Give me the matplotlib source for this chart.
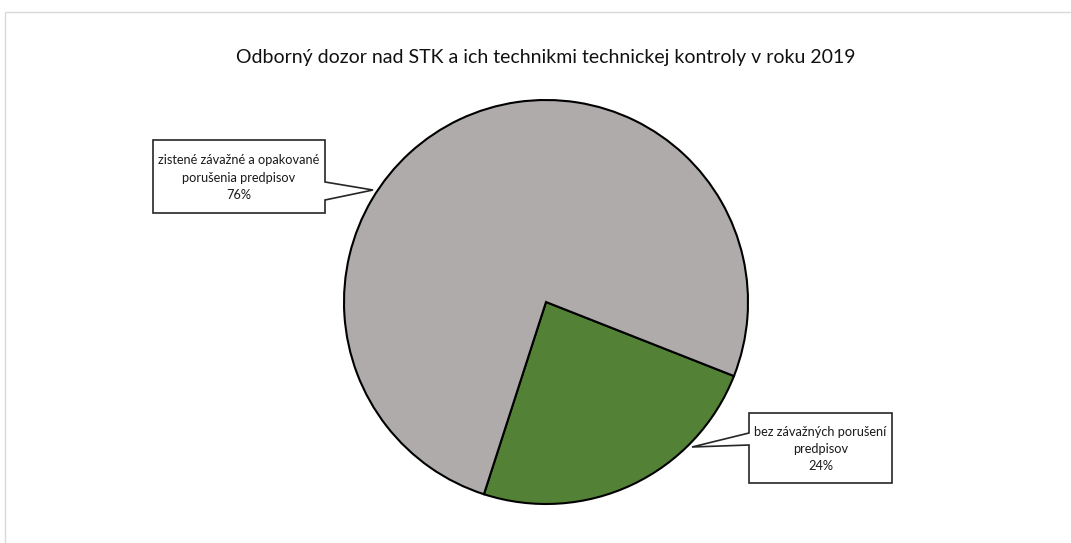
import matplotlib.pyplot as plt
from matplotlib.patches import Polygon, Rectangle

# data
categories = ["bez závažných porušení\npredpisov", "zistené závažné a opakované\nporušenia predpisov"]
values = [24, 76]
colors = ["#538135", "#AFABAB"]
title = "Odborný dozor nad STK a ich technikmi technickej kontroly v roku 2019"

W, H = 1071, 543
plt.rcParams['font.family'] = ['Lato', 'DejaVu Sans']

fig = plt.figure(figsize=(W / 100, H / 100), dpi=100)
ax = fig.add_axes([0, 0, 1, 1])

def py(y):
    # pixel row -> data y
    return H - y

# chart border
fig.patches.append(Rectangle((5 / W, -0.1), 1.2, (H - 12) / H + 0.1, transform=fig.transFigure,
                             fill=False, edgecolor="#D9D9D9", linewidth=1))

ax.pie(values, colors=colors, startangle=-21.5, counterclock=False,
       center=(546, py(302)), radius=202, frame=True,
       wedgeprops=dict(edgecolor="black", linewidth=1.5))
ax.set_xlim(0, W)
ax.set_ylim(0, H)
ax.set_aspect('equal')
ax.axis('off')

ax.text(546, py(58), title, ha='center', va='center', fontsize=14, color="#111111")

def callout(x0, y0, x1, y1, side, pa, pb, tip, text):
    if side == 'right':
        pts = [(x0, y0), (x1, y0), (x1, pa), tip, (x1, pb), (x1, y1), (x0, y1)]
    else:
        pts = [(x0, y0), (x1, y0), (x1, y1), (x0, y1), (x0, pb), tip, (x0, pa)]
    pts = [(x, py(y)) for x, y in pts]
    ax.add_patch(Polygon(pts, closed=True, facecolor="white", edgecolor="#262626", linewidth=1.2, zorder=5))
    ax.text((x0 + x1) / 2, py((y0 + y1) / 2 + 1), text, ha='center', va='center',
            fontsize=9.2, linespacing=1.55, color="#1a1a1a", zorder=6)

callout(153, 140, 325, 213, 'right', 182, 200, (373, 190),
        f"{categories[1]}\n{values[1]}%")
callout(749, 413, 892, 483, 'left', 433, 445, (692, 447),
        f"{categories[0]}\n{values[0]}%")

fig.savefig("out.png", dpi=100)
